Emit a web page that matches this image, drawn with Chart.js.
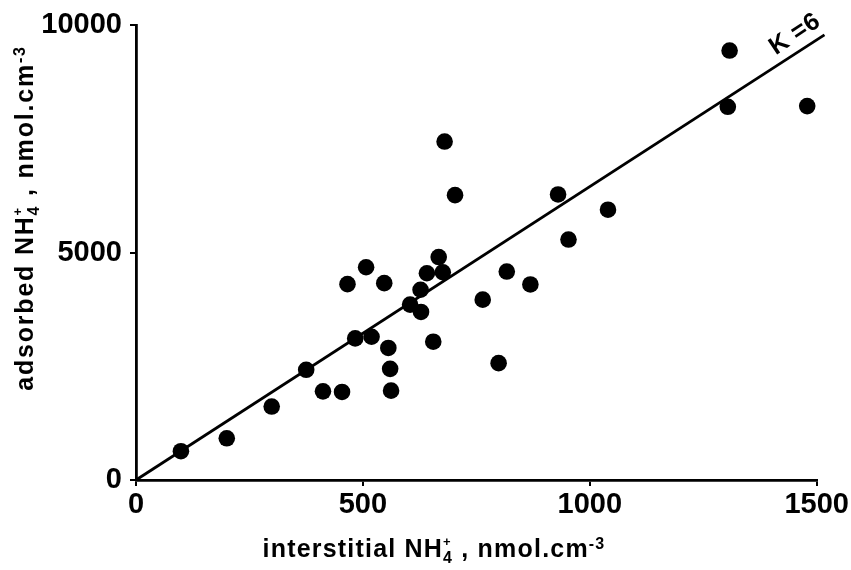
<!DOCTYPE html>
<html>
<head>
<meta charset="utf-8">
<script src="https://cdn.jsdelivr.net/npm/chart.js@4.4.1/dist/chart.umd.min.js"></script>
<style>
  html, body { margin: 0; padding: 0; background: #fff; }
  #wrap { width: 851px; height: 570px; position: relative; }
</style>
</head>
<body>
<div id="wrap"><canvas id="chartNH4"></canvas></div>
<script>
// interstitial vs adsorbed NH4+, nmol.cm-3
const interstitial = [99, 200, 299, 375, 412, 454, 466, 507, 547, 483, 519, 556, 560, 562,
  604, 628, 627, 641, 667, 655, 680, 703, 676, 764, 817, 869, 799, 930, 953, 1040,
  1308, 1304, 1479];
const adsorbed = [633, 917, 1616, 2424, 1950, 1936, 4308, 4680, 4330, 3115, 3151, 2904, 2445, 1965,
  3858, 3697, 4185, 4548, 4905, 3042, 7445, 6266, 4570, 3967, 4585, 4301, 2570, 6281, 5290, 5945,
  9447, 8210, 8225];

// fitted line K = 6
const lineX = [0, 1517];
const lineY = [0, 9790];
const lineLabel = 'K =6';

const xTicks = [0, 500, 1000, 1500];
const yTicks = [0, 5000, 10000];

const FONT = '"Liberation Sans", Arial, sans-serif';

function drawRich(ctx, parts, size) {
    // mide y dibuja texto con sub/superindices, centrado en (0,0)
    let total = 0;
    const widths = parts.map(p => {
        ctx.font = `bold ${Math.round(size * (p.scale || 1))}px ${FONT}`;
        const w = ctx.measureText(p.t).width;
        if (!p.overlay) total += w;
        return w;
    });
    let x = -total / 2;
    let lastX = x;
    parts.forEach((p, i) => {
        ctx.font = `bold ${Math.round(size * (p.scale || 1))}px ${FONT}`;
        const px = p.overlay ? lastX : x;
        ctx.fillText(p.t, px, (p.dy || 0) * size);
        if (!p.overlay) { lastX = x; x += widths[i]; }
    });
}

function titleParts(word) {
    return [
        { t: word + ' NH' },
        { t: '4', scale: 0.62, dy: 0.22 },
        { t: '+', scale: 0.5, dy: -0.45, overlay: true },
        { t: ' , nmol.cm' },
        { t: '-3', scale: 0.62, dy: -0.33 }
    ];
}

const textoPlugin = {
    id: 'textos',
    afterDraw(chart) {
        const ctx = chart.ctx;
        const { x, y } = chart.scales;
        ctx.save();
        ctx.fillStyle = '#000';
        ctx.textBaseline = 'alphabetic';
        ctx.textAlign = 'left';
        ctx.letterSpacing = '1.2px';

        // titulo eje x
        ctx.save();
        ctx.translate(434, 557);
        drawRich(ctx, titleParts('interstitial'), 25);
        ctx.restore();

        // titulo eje y
        ctx.save();
        ctx.translate(33, 218);
        ctx.rotate(-Math.PI / 2);
        ctx.letterSpacing = '1.8px';
        drawRich(ctx, titleParts('adsorbed'), 25);
        ctx.restore();

        // etiqueta de la recta
        ctx.save();
        ctx.translate(x.getPixelForValue(1452), y.getPixelForValue(9800));
        ctx.rotate(-Math.atan2(38, 57));
        ctx.font = `bold 25px ${FONT}`;
        ctx.textAlign = 'center';
        ctx.textBaseline = 'middle';
        ctx.letterSpacing = '0.5px';
        ctx.fillText(lineLabel, 0, 0);
        ctx.restore();

        ctx.restore();
    }
};

new Chart(document.getElementById('chartNH4'), {
    type: 'scatter',
    data: {
        datasets: [
            {
                data: interstitial.map((v, i) => ({ x: v, y: adsorbed[i] })),
                backgroundColor: '#000',
                borderWidth: 0,
                pointRadius: 8.3,
                pointHoverRadius: 8.3
            },
            {
                data: lineX.map((v, i) => ({ x: v, y: lineY[i] })),
                showLine: true,
                borderColor: '#000',
                borderWidth: 2.8,
                pointRadius: 0,
                clip: false
            }
        ]
    },
    options: {
        responsive: true,
        maintainAspectRatio: false,
        animation: false,
        events: [],
        layout: { padding: { left: 0, right: 33, top: 22, bottom: 0 } },
        plugins: {
            legend: { display: false },
            tooltip: { enabled: false }
        },
        scales: {
            x: {
                type: 'linear',
                min: 0, max: 1500,
                afterBuildTicks: s => { s.ticks = xTicks.map(v => ({ value: v })); },
                afterFit: s => { s.height = 90; },
                border: { display: true, color: '#000', width: 2.8 },
                grid: { drawOnChartArea: false, drawTicks: true, tickLength: 6, color: '#000', lineWidth: 2 },
                ticks: {
                    color: '#000', padding: 2, maxRotation: 0,
                    callback: v => String(v),
                    font: { family: FONT, size: 29, weight: 'bold' }
                }
            },
            y: {
                type: 'linear',
                min: 0, max: 10000,
                afterBuildTicks: s => { s.ticks = yTicks.map(v => ({ value: v })); },
                afterFit: s => { s.width = 136; },
                border: { display: true, color: '#000', width: 2.8 },
                grid: { drawOnChartArea: false, drawTicks: true, tickLength: 6, color: '#000', lineWidth: 2 },
                ticks: {
                    color: '#000', padding: 8,
                    callback: v => String(v),
                    font: { family: FONT, size: 29, weight: 'bold' }
                }
            }
        }
    },
    plugins: [textoPlugin]
});
</script>
</body>
</html>
